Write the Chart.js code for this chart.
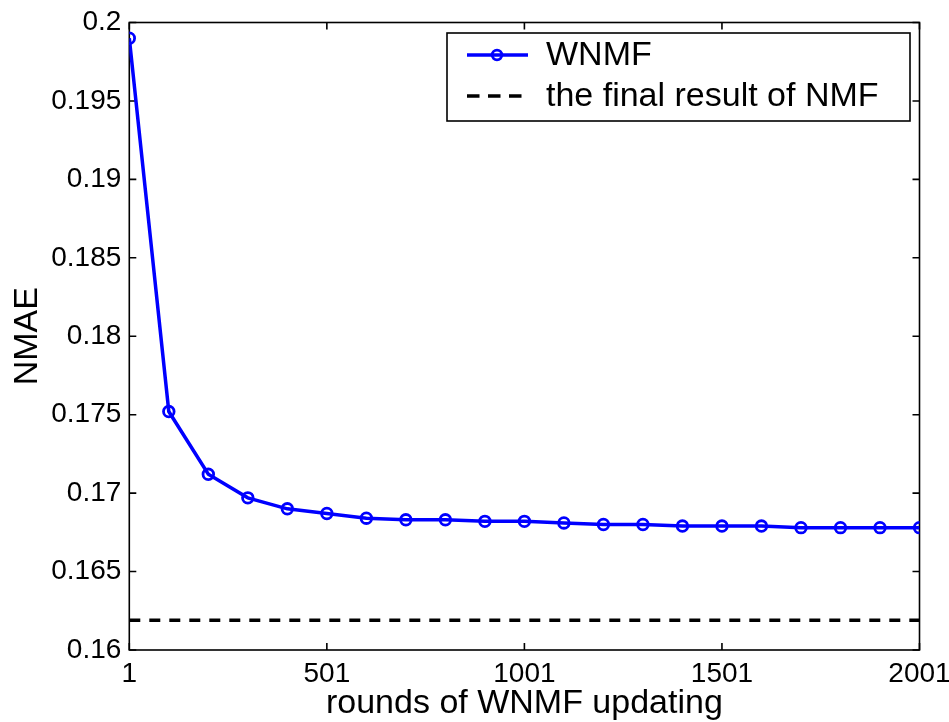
<!DOCTYPE html>
<html><head><meta charset="utf-8">
<script src="https://cdn.jsdelivr.net/npm/chart.js@4.4.1/dist/chart.umd.min.js"></script>
<style>html,body{margin:0;padding:0;background:#fff;overflow:hidden}</style>
</head><body>
<canvas id="c" width="949" height="722"></canvas>
<script>
const rounds = [1,101,201,301,401,501,601,701,801,901,1001,1101,1201,1301,1401,1501,1601,1701,1801,1901,2001];
const wnmf = [0.1990,0.1752,0.1712,0.1697,0.1690,0.1687,0.1684,0.1683,0.1683,0.1682,0.1682,0.1681,0.1680,0.1680,0.1679,0.1679,0.1679,0.1678,0.1678,0.1678,0.1678];
const nmfRounds = [1,2001];
const nmfFinal = [0.1619,0.1619];
const xTicks = [1,501,1001,1501,2001];
const yTicks = [0.16,0.165,0.17,0.175,0.18,0.185,0.19,0.195,0.2];
const seriesLabels = ['WNMF','the final result of NMF'];

const FONT = '"Liberation Sans", Arial, Helvetica, sans-serif';

const framePlugin = {
  id: 'frame',
  beforeDatasetsDraw(chart) {
    const {ctx, chartArea: a, scales: {x, y}} = chart;
    ctx.save();
    ctx.strokeStyle = '#000';
    ctx.lineWidth = 1.6;
    ctx.strokeRect(a.left, a.top, a.right - a.left, a.bottom - a.top);
    const tl = 7;
    ctx.beginPath();
    x.ticks.forEach(t => {
      const px = x.getPixelForValue(t.value);
      ctx.moveTo(px, a.bottom); ctx.lineTo(px, a.bottom - tl);
      ctx.moveTo(px, a.top); ctx.lineTo(px, a.top + tl);
    });
    y.ticks.forEach(t => {
      const py = y.getPixelForValue(t.value);
      ctx.moveTo(a.left, py); ctx.lineTo(a.left + tl, py);
      ctx.moveTo(a.right, py); ctx.lineTo(a.right - tl, py);
    });
    ctx.stroke();
    ctx.restore();
  },
  afterDraw(chart) {
    const ctx = chart.ctx;
    const ds = chart.data.datasets;
    ctx.save();
    const bx = 447, by = 33, bw = 463, bh = 88;
    ctx.fillStyle = '#fff';
    ctx.fillRect(bx, by, bw, bh);
    ctx.strokeStyle = '#000';
    ctx.lineWidth = 1.6;
    ctx.strokeRect(bx, by, bw, bh);
    const rows = [55, 96];
    ds.forEach((d, i) => {
      const yy = rows[i];
      ctx.beginPath();
      ctx.strokeStyle = d.borderColor;
      ctx.lineWidth = d.borderWidth;
      ctx.setLineDash(d.borderDash ? [12.5, 8.5] : []);
      ctx.moveTo(467, yy); ctx.lineTo(528, yy);
      ctx.stroke();
      ctx.setLineDash([]);
      if (d.pointRadius > 0) {
        ctx.beginPath();
        ctx.lineWidth = d.pointBorderWidth;
        ctx.arc(497, yy, d.pointRadius - 0.5, 0, Math.PI * 2);
        ctx.stroke();
      }
      ctx.fillStyle = '#000';
      ctx.font = '34px ' + FONT;
      ctx.textBaseline = 'middle';
      ctx.textAlign = 'left';
      ctx.fillText(d.label, 546, yy + 1);
    });
    ctx.restore();
  }
};

new Chart(document.getElementById('c'), {
  type: 'line',
  data: {
    datasets: [
      {
        label: seriesLabels[0],
        data: rounds.map((r, i) => ({x: r, y: wnmf[i]})),
        borderColor: '#0000ff',
        borderWidth: 3.5,
        pointRadius: 5.3,
        pointBorderWidth: 2.8,
        pointBorderColor: '#0000ff',
        pointBackgroundColor: 'rgba(0,0,0,0)',
        tension: 0
      },
      {
        label: seriesLabels[1],
        data: nmfRounds.map((r, i) => ({x: r, y: nmfFinal[i]})),
        borderColor: '#000000',
        borderWidth: 3.5,
        borderDash: [11, 9],
        pointRadius: 0,
        tension: 0
      }
    ]
  },
  options: {
    responsive: false,
    animation: false,
    devicePixelRatio: 1,
    layout: {padding: {top: 22.5, right: 29.5, left: 0, bottom: 0}},
    plugins: {legend: {display: false}, tooltip: {enabled: false}},
    scales: {
      x: {
        type: 'linear', min: 1, max: 2001,
        afterBuildTicks: s => { s.ticks = xTicks.map(v => ({value: v})); },
        afterFit: s => { s.height = 72; s.paddingLeft = 0; s.paddingRight = 0; },
        grid: {display: false, drawTicks: false},
        border: {display: false},
        ticks: {color: '#000', font: {family: FONT, size: 28}, padding: 7, maxRotation: 0, autoSkip: false,
                callback: v => String(v)},
        title: {display: true, text: 'rounds of WNMF updating', color: '#000',
                font: {family: FONT, size: 34, lineHeight: 1.1}, padding: {top: 0, bottom: 0}}
      },
      y: {
        type: 'linear', min: 0.16, max: 0.2,
        afterBuildTicks: s => { s.ticks = yTicks.map(v => ({value: v})); },
        afterFit: s => { s.width = 129.3; s.paddingTop = 0; s.paddingBottom = 0; },
        grid: {display: false, drawTicks: false},
        border: {display: false},
        ticks: {color: '#000', font: {family: FONT, size: 28}, padding: 8, autoSkip: false,
                callback: v => String(+Number(v).toFixed(3))},
        title: {display: true, text: 'NMAE', color: '#000',
                font: {family: FONT, size: 34, lineHeight: 1.1}, padding: {top: 9, bottom: 0}}
      }
    }
  },
  plugins: [framePlugin]
});
</script>
</body></html>
